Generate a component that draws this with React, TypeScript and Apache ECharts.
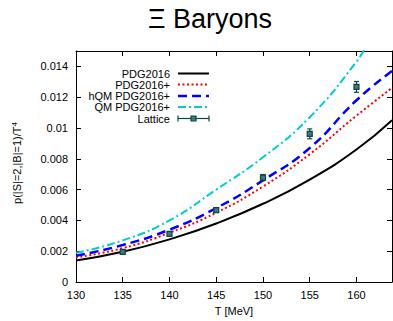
import React, { useEffect, useRef } from "react";
import * as echarts from "echarts";

const temps = [130, 135, 140, 145, 150, 155, 160, 163.8];
const pdg2016 = [0.0014, 0.00196, 0.00277, 0.0038, 0.00508, 0.00665, 0.0086, 0.0105];
const pdg2016plus = [0.0016, 0.0022, 0.0032, 0.0045, 0.0062, 0.0083, 0.0108, 0.0126];
const hqmPdg = [0.0017, 0.0024, 0.0034, 0.0048, 0.0066, 0.0087, 0.0118, 0.0137];
const qmTemps = [130, 135, 140, 145, 150, 155, 160, 161];
const qmPdg = [0.0019, 0.0027, 0.004, 0.006, 0.0081, 0.0107, 0.0143, 0.0153];
const latticeT = [135, 140, 145, 150, 155, 160];
const latticeV = [0.00195, 0.00313, 0.00467, 0.00678, 0.00962, 0.01267];
const latticeErr = [0.0001, 0.00012, 0.00015, 0.0002, 0.00032, 0.00035];
const legendNames = ["PDG2016", "PDG2016+", "hQM PDG2016+", "QM PDG2016+", "Lattice"];
const xTickInterval = 5;
const yTickInterval = 0.002;

const FONT = "Liberation Sans, Arial, sans-serif";
const LAT_COLOR = "#0b4646";

export default function App() {
  const ref = useRef<HTMLDivElement>(null);
  useEffect(() => {
    if (!ref.current) return;
    const chart = echarts.init(ref.current, undefined, { renderer: "svg" });
    const zip = (xs: number[], ys: number[]) => xs.map((x, i) => [x, ys[i]]);
    const axisCommon = {
      type: "value" as const,
      axisLine: { show: true, onZero: false, lineStyle: { color: "#000", width: 1 } },
      axisTick: { show: true, inside: true, length: 5, lineStyle: { color: "#000", width: 1 } },
      splitLine: { show: false },
    };
    const legendY = [73.5, 84.5, 96, 107, 118.5];
    const lx1 = 178, lx2 = 209;
    const legendGraphics: any[] = [];
    const styles = [
      { stroke: "#000", lineWidth: 2 },
      { stroke: "#ff0000", lineWidth: 2, lineDash: [2, 2.5] },
      { stroke: "#0000ff", lineWidth: 2.5, lineDash: [9, 5] },
      { stroke: "#00cccc", lineWidth: 2, lineDash: [8, 3, 2, 3] },
    ];
    legendNames.forEach((n, i) => {
      legendGraphics.push({
        type: "text",
        x: 170,
        y: legendY[i],
        style: { text: n, font: `11px ${FONT}`, fill: "#000", align: "right", verticalAlign: "middle" },
      });
      if (i < 4) {
        legendGraphics.push({
          type: "line",
          shape: { x1: lx1, y1: legendY[i], x2: lx2, y2: legendY[i] },
          style: styles[i],
        });
      } else {
        const y = legendY[i];
        legendGraphics.push(
          { type: "line", shape: { x1: lx1, y1: y, x2: lx2, y2: y }, style: { stroke: LAT_COLOR, lineWidth: 1.2 } },
          { type: "line", shape: { x1: lx1, y1: y - 3, x2: lx1, y2: y + 3 }, style: { stroke: LAT_COLOR, lineWidth: 1.2 } },
          { type: "line", shape: { x1: lx2, y1: y - 3, x2: lx2, y2: y + 3 }, style: { stroke: LAT_COLOR, lineWidth: 1.2 } },
          {
            type: "rect",
            shape: { x: (lx1 + lx2) / 2 - 2.5, y: y - 2.5, width: 5, height: 5 },
            style: { fill: "#3f7a7a", stroke: LAT_COLOR, lineWidth: 1.2 },
          }
        );
      }
    });

    chart.setOption({
      animation: false,
      grid: { left: 76, right: 1, top: 51, bottom: 34, containLabel: false },
      xAxis: [
        {
          ...axisCommon,
          position: "bottom",
          min: 130,
          max: 163.8,
          interval: xTickInterval,
          axisLabel: { color: "#000", fontSize: 11, fontFamily: FONT, margin: 7, showMaxLabel: false },
          name: "T [MeV]",
          nameLocation: "middle",
          nameGap: 23,
          nameTextStyle: { color: "#000", fontSize: 11, fontFamily: FONT },
        },
        {
          ...axisCommon,
          position: "top",
          min: 130,
          max: 163.8,
          interval: xTickInterval,
          axisLabel: { show: false },
        },
      ],
      yAxis: [
        {
          ...axisCommon,
          position: "left",
          min: 0,
          max: 0.015,
          interval: yTickInterval,
          axisLabel: {
            color: "#000",
            fontSize: 11,
            fontFamily: FONT,
            margin: 8,
            showMaxLabel: false,
            formatter: (v: number) => String(+v.toFixed(3)),
          },
        },
        {
          ...axisCommon,
          position: "right",
          min: 0,
          max: 0.015,
          interval: yTickInterval,
          axisLabel: { show: false },
        },
      ],
      graphic: [
        {
          type: "text",
          x: 210,
          y: 19,
          style: { text: "Ξ Baryons", font: `27px ${FONT}`, fill: "#000", align: "center", verticalAlign: "middle" },
        },
        {
          type: "text",
          x: 17,
          y: 163,
          rotation: Math.PI / 2,
          style: {
            text: "{a|p(|S|=2,|B|=1)/T}{b|4}",
            rich: {
              a: { font: `11px ${FONT}`, fill: "#000" },
              b: { font: `8px ${FONT}`, fill: "#000", verticalAlign: "top", padding: [0, 0, 6, 0] },
            },
            align: "center",
            verticalAlign: "middle",
          },
        },
        ...legendGraphics,
      ],
      series: [
        {
          type: "line",
          data: zip(temps, pdg2016),
          smooth: true,
          showSymbol: false,
          lineStyle: { color: "#000", width: 2 },
          z: 3,
        },
        {
          type: "line",
          data: zip(temps, pdg2016plus),
          smooth: true,
          showSymbol: false,
          lineStyle: { color: "#ff0000", width: 2, type: [2, 2.5] },
          z: 3,
        },
        {
          type: "line",
          data: zip(temps, hqmPdg),
          smooth: true,
          showSymbol: false,
          lineStyle: { color: "#0000ff", width: 2.5, type: [9, 5] },
          z: 3,
        },
        {
          type: "line",
          data: zip(qmTemps, qmPdg),
          smooth: true,
          showSymbol: false,
          lineStyle: { color: "#00cccc", width: 2, type: [8, 3, 2, 3] },
          z: 3,
        },
        {
          type: "custom",
          data: latticeT.map((t, i) => [t, latticeV[i], latticeErr[i]]),
          z: 5,
          renderItem: (params: any, api: any) => {
            const x = api.value(0);
            const y = api.value(1);
            const e = api.value(2);
            const p = api.coord([x, y]);
            const hi = api.coord([x, y + e]);
            const lo = api.coord([x, y - e]);
            const st = { stroke: LAT_COLOR, lineWidth: 1.2 };
            return {
              type: "group",
              children: [
                { type: "line", shape: { x1: p[0], y1: hi[1], x2: p[0], y2: lo[1] }, style: st },
                { type: "line", shape: { x1: p[0] - 2.5, y1: hi[1], x2: p[0] + 2.5, y2: hi[1] }, style: st },
                { type: "line", shape: { x1: p[0] - 2.5, y1: lo[1], x2: p[0] + 2.5, y2: lo[1] }, style: st },
                {
                  type: "rect",
                  shape: { x: p[0] - 2.5, y: p[1] - 2.5, width: 5, height: 5 },
                  style: { fill: "#3f7a7a", stroke: LAT_COLOR, lineWidth: 1.2 },
                },
              ],
            };
          },
        },
      ],
    });
    return () => chart.dispose();
  }, []);
  return <div ref={ref} style={{ width: 393, height: 321, position: "absolute", left: 0, top: 0 }} />;
}
